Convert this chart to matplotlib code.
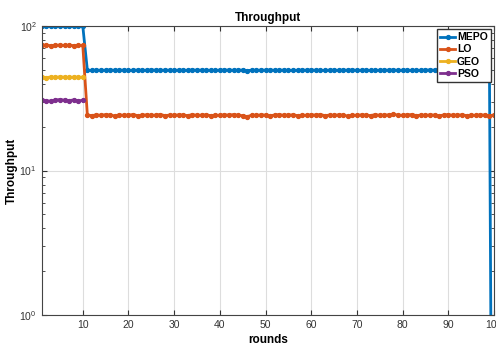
import numpy as np
import matplotlib.pyplot as plt

plt.rcParams['font.family'] = ['Liberation Sans', 'DejaVu Sans']

rounds = list(range(1, 101))

mepo = [100.0] * 10 + [
    49.5, 49.3, 49.6, 49.4, 49.5, 49.7, 49.4, 49.5, 49.6, 49.3,
    49.5, 49.6, 49.4, 49.5, 49.7, 49.5, 49.4, 49.6, 49.5, 49.3,
    49.6, 49.5, 49.4, 49.7, 49.5, 49.6, 49.4, 49.5, 49.3, 49.6,
    49.5, 49.7, 49.4, 49.5, 49.6, 49.2, 49.5, 49.4, 49.6, 49.5,
    49.7, 49.4, 49.5, 49.6, 49.3, 49.5, 49.4, 49.6, 49.5, 49.7,
    49.4, 49.5, 49.3, 49.6, 49.5, 49.4, 49.6, 49.5, 49.7, 49.4,
    49.5, 49.6, 49.3, 49.5, 49.4, 49.6, 49.5, 49.7, 49.4, 49.5,
    49.6, 49.3, 49.5, 49.4, 49.6, 49.7, 49.5, 49.4, 49.6, 49.5,
    49.3, 49.5, 49.6, 49.4, 49.5, 49.6, 49.7, 49.5, 49.4,
    1e-4]
lo = [73.5, 73.8, 73.2, 73.6, 74.0, 73.4, 73.7, 73.3, 73.6, 73.5] + [
    24.2, 24.0, 24.3, 24.1, 24.4, 24.2, 23.9, 24.3, 24.1, 24.2,
    24.4, 24.0, 24.2, 24.3, 24.1, 24.2, 24.4, 24.0, 24.2, 24.1,
    24.3, 24.2, 24.0, 24.4, 24.1, 24.2, 24.3, 24.0, 24.2, 24.1,
    24.3, 24.2, 24.4, 24.1, 24.0, 23.6, 24.2, 24.1, 24.3, 24.2,
    24.0, 24.2, 24.4, 24.1, 24.2, 24.3, 24.0, 24.2, 24.1, 24.3,
    24.2, 24.4, 24.0, 24.2, 24.1, 24.3, 24.2, 23.8, 24.2, 24.1,
    24.3, 24.2, 24.0, 24.4, 24.1, 24.2, 24.3, 24.5, 24.2, 24.1,
    24.3, 24.4, 24.0, 24.2, 24.1, 24.3, 24.2, 24.0, 24.2, 24.4,
    24.1, 24.2, 24.3, 24.0, 24.2, 24.1, 24.3, 24.2, 24.0, 24.2]
geo = [44.2, 44.0, 44.4, 44.1, 44.6, 44.3, 44.1, 44.4, 44.2, 44.3]
pso = [30.6, 30.4, 30.2, 30.8, 31.0, 30.7, 30.5, 30.8, 30.4, 30.6]

names = ['MEPO', 'LO', 'GEO', 'PSO']
colors = ['#0072BD', '#D95319', '#EDB120', '#7E2F8E']

fig = plt.figure(figsize=(4.96, 3.48), dpi=100)
ax = fig.add_axes([0.084, 0.095, 0.912, 0.83])

series = [mepo, lo, geo, pso]
for i in range(len(series)):
    ax.plot(rounds[:len(series[i])], series[i], '-o', color=colors[i],
            linewidth=2, markersize=2.8, label=names[i])

ax.set_yscale('log')
ax.set_xlim(1, 100)
ax.set_ylim(1, 100)
ax.set_xticks(range(10, 101, 10))
ax.grid(True, which='major', color='#dddddd', linewidth=0.8)
ax.tick_params(which='both', direction='in', top=True, right=True, labelsize=7.5, colors='#333333')
for s in ax.spines.values():
    s.set_color('#444444')
ax.set_title('Throughput', fontsize=8.5, fontweight='bold', pad=4)
ax.set_xlabel('rounds', fontsize=8.5, fontweight='bold', labelpad=3)
ax.set_ylabel('Throughput', fontsize=8.5, fontweight='bold', labelpad=1)
leg = ax.legend(loc='upper right', fontsize=7.5, handlelength=1.4, handletextpad=0.2,
                borderpad=0.3, labelspacing=0.2, fancybox=False, framealpha=1,
                edgecolor='#333333', borderaxespad=0.3)
for t in leg.get_texts():
    t.set_fontweight('bold')

plt.savefig('out.png', dpi=100)
